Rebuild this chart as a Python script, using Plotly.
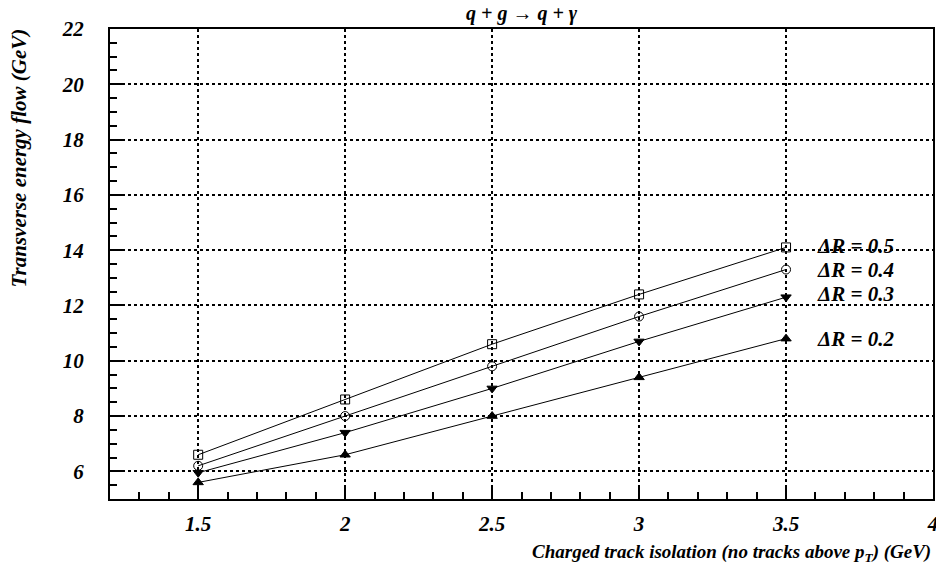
import plotly.graph_objects as go

# isolation cut values (GeV)
pt_cut = [1.5, 2.0, 2.5, 3.0, 3.5]

# transverse energy flow for each cone size
et_r05 = [6.6, 8.6, 10.6, 12.4, 14.1]
et_r04 = [6.2, 8.0, 9.8, 11.6, 13.3]
et_r03 = [5.95, 7.4, 9.0, 10.7, 12.3]
et_r02 = [5.6, 6.6, 8.0, 9.4, 10.8]

labels = ["ΔR = 0.5", "ΔR = 0.4", "ΔR = 0.3", "ΔR = 0.2"]
label_y = [14.15, 13.3, 12.4, 10.8]

FONT = "Liberation Serif"

fig = go.Figure()

series = [
    (et_r05, "square-open", 9),
    (et_r04, "circle-open", 9),
    (et_r03, "triangle-down", 9),
    (et_r02, "triangle-up", 9),
]
for ys, sym, sz in series:
    fig.add_trace(go.Scatter(
        x=pt_cut, y=ys, mode="lines+markers",
        line=dict(color="black", width=1),
        marker=dict(symbol=sym, size=sz, color="black", line=dict(width=1, color="black")),
        showlegend=False,
    ))

# cone labels
for txt, yy in zip(labels, label_y):
    fig.add_annotation(x=3.6, y=yy, text="<b><i>" + txt + "</i></b>", showarrow=False,
                       xanchor="left", yanchor="middle",
                       font=dict(family=FONT, size=21, color="black"))

fig.add_annotation(xref="paper", yref="paper", x=0.5, y=1, yshift=16,
                   text="<b><i>q + g → q + γ</i></b>", showarrow=False,
                   xanchor="center", yanchor="middle",
                   font=dict(family=FONT, size=20, color="black"))

fig.add_annotation(xref="paper", yref="paper", x=0, y=1, xshift=-92, yshift=2,
                   text="<b><i>Transverse energy flow (GeV)</i></b>", showarrow=False,
                   textangle=-90, xanchor="center", yanchor="top",
                   font=dict(family=FONT, size=21, color="black"))

fig.add_annotation(xref="paper", yref="paper", x=1, y=0, yshift=-54,
                   text="<b><i>Charged track isolation (no tracks above p<sub>T</sub>) (GeV)</i></b>",
                   showarrow=False, xanchor="right", yanchor="middle",
                   font=dict(family=FONT, size=19, color="black"))

axis_common = dict(
    showline=True, linecolor="black", linewidth=2, mirror=True,
    ticks="inside", ticklen=14, tickwidth=1.5, tickcolor="black",
    showgrid=True, gridcolor="black", griddash="dot", gridwidth=1.5,
    zeroline=False, automargin=False, ticklabeloverflow="allow",
    tickfont=dict(family=FONT, size=21, color="black", weight="bold", style="italic"),
)

fig.update_xaxes(range=[1.2, 4.0], tickvals=[1.5, 2, 2.5, 3, 3.5, 4],
                 ticktext=["1.5", "2", "2.5", "3", "3.5", "4"], ticklabelstandoff=5,
                 minor=dict(dtick=0.1, tick0=1.2, ticks="inside", ticklen=7, tickwidth=1.5, tickcolor="black", showgrid=False),
                 **axis_common)
fig.update_yaxes(range=[5, 22], tickvals=[6, 8, 10, 12, 14, 16, 18, 20, 22], ticklabelstandoff=20,
                 minor=dict(dtick=0.5, tick0=5, ticks="inside", ticklen=7, tickwidth=1.5, tickcolor="black", showgrid=False),
                 **axis_common)

fig.update_layout(
    width=936, height=575,
    margin=dict(l=110, r=3, t=29, b=76, autoexpand=False),
    plot_bgcolor="white", paper_bgcolor="white",
    font=dict(family=FONT, color="black"),
)

fig.write_html("out.html", post_script="document.body.style.margin='0';",
               config={"displayModeBar": False})
